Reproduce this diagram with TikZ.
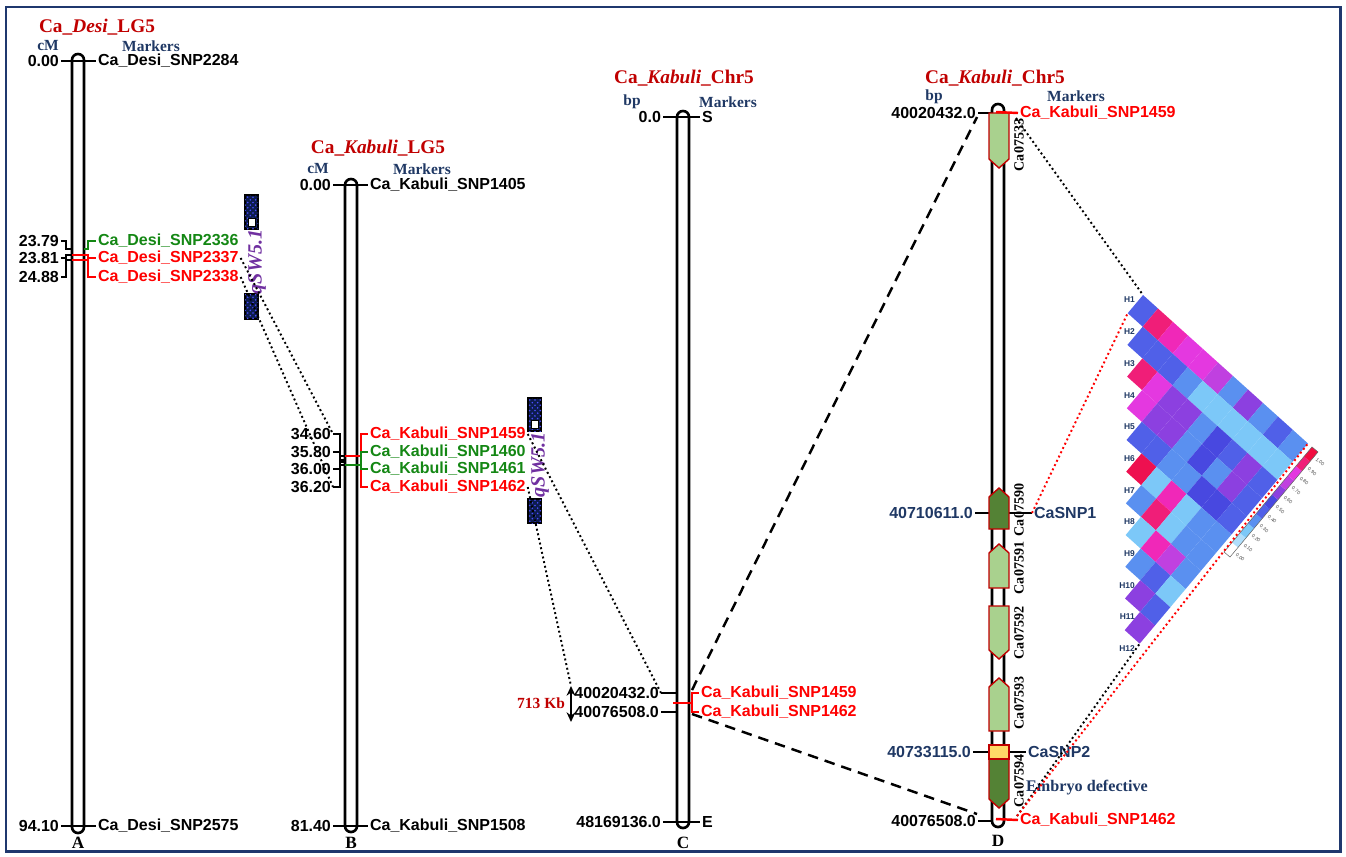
\documentclass[tikz,border=0pt]{standalone}
\usepackage{fontspec}
\setmainfont{Liberation Serif}
\setsansfont{Liberation Sans}
\usepackage{tikz}
\usetikzlibrary{arrows.meta,patterns}
\usepackage{xcolor}
\definecolor{framebl}{RGB}{31,56,110}
\definecolor{navytxt}{RGB}{31,56,100}
\definecolor{titlered}{RGB}{192,0,0}
\definecolor{mkgreen}{RGB}{20,135,20}
\definecolor{qtlpurple}{RGB}{112,48,160}
\definecolor{qtlnavy}{RGB}{12,28,78}
\definecolor{genelt}{RGB}{169,209,142}
\definecolor{genedk}{RGB}{84,130,53}
\definecolor{snpyel}{RGB}{255,217,102}
% r2 colours
\definecolor{ldA}{RGB}{124,200,248}
\definecolor{ldB}{RGB}{90,144,240}
\definecolor{ldC}{RGB}{80,96,232}
\definecolor{ldD}{RGB}{72,72,224}
\definecolor{ldE}{RGB}{140,64,224}
\definecolor{ldF}{RGB}{192,64,224}
\definecolor{ldG}{RGB}{228,56,224}
\definecolor{ldH}{RGB}{240,40,184}
\definecolor{ldI}{RGB}{240,30,120}
\definecolor{ldJ}{RGB}{238,16,80}
\tikzset{
  >=Stealth,
}

\begin{document}
\begin{tikzpicture}[
  x=0.02cm,y=-0.02cm,
  chrom/.style={draw,line width=1.5pt,rounded corners=3.4pt},
  tk/.style={line width=1.4pt},
  cmlab/.style={font=\sffamily\bfseries\fontsize{9.1}{10}\selectfont,anchor=east,inner sep=1pt},
  mklab/.style={font=\sffamily\bfseries\fontsize{9.1}{10}\selectfont,anchor=west,inner sep=1pt},
  maptitle/.style={font=\bfseries\fontsize{11}{12}\selectfont,text=titlered},
  unitlab/.style={font=\bfseries\fontsize{8.8}{10}\selectfont,text=navytxt,inner sep=1pt},
  chrlab/.style={font=\bfseries\fontsize{9.8}{11}\selectfont},
  gene/.style={draw=titlered,line width=0.8pt},
  genelab/.style={font=\bfseries\fontsize{8}{9}\selectfont,rotate=90,inner sep=1pt},
  qbox/.style={draw=black,line width=0.7pt,fill=qtlnavy,postaction={pattern=crosshatch dots,pattern color=blue!70}},
  qtllab/.style={font=\bfseries\itshape\fontsize{11.5}{12}\selectfont,text=qtlpurple,rotate=90},
  dotln/.style={line width=1.1pt,dash pattern=on 1.1pt off 1.6pt},
  dashln/.style={line width=1.4pt,dash pattern=on 6pt off 4pt},
  hlab/.style={font=\sffamily\bfseries\fontsize{4.8}{5}\selectfont,text=navytxt,anchor=east,inner sep=0.5pt},
  leglab/.style={font=\sffamily\fontsize{2.8}{3}\selectfont,text=black!70,anchor=west,rotate=-40,inner sep=0.3pt}
]
\useasboundingbox (0,0) rectangle (1346,856);
\draw[framebl,line width=1.7pt] (6,7) rectangle (1340,851);

% --- A: Ca_Desi_LG5
\node[maptitle] (tA) at (97,27) {Ca\_\textit{Desi}\_LG5};
\node[unitlab] (uA) at (48,46) {cM};
\node[unitlab] (kA) at (151,46) {Markers};
\draw[chrom] (72,54) rectangle (84,833);

\node[cmlab] (cA0) at (61,61) {0.00};
\node[mklab] (mA0) at (96,61) {Ca\_Desi\_SNP2284};
\draw[tk] (cA0.east) -- (mA0.west);

\node[cmlab] (cA1) at (61,241) {23.79};
\node[cmlab] (cA2) at (61,258) {23.81};
\node[cmlab] (cA3) at (61,277) {24.88};
\node[mklab,text=mkgreen] (mA1) at (96,241) {Ca\_Desi\_SNP2336};
\node[mklab,text=red] (mA2) at (96,258) {Ca\_Desi\_SNP2337};
\node[mklab,text=red] (mA3) at (96,277) {Ca\_Desi\_SNP2338};
\coordinate (lA1) at (72,249);
\coordinate (lA2) at (72,255);
\coordinate (lA3) at (72,260);
\coordinate (rA1) at (84,249);
\coordinate (rA2) at (84,255);
\coordinate (rA3) at (84,260);
\draw[tk] (cA1.east) -- ++(5,0) |- (lA1);
\draw[tk] (cA2.east) -- ++(5,0) |- (lA2);
\draw[tk] (cA3.east) -- ++(5,0) |- (lA3);
\draw[tk,red] (lA2) -- (rA2);
\draw[tk,red] (lA3) -- (rA3);
\draw[tk,mkgreen] (rA1) -- ++(4,0) |- (mA1.west);
\draw[tk,red] (rA2) -- ++(4,0) |- (mA2.west);
\draw[tk,red] (rA3) -- ++(4,0) |- (mA3.west);

\node[cmlab] (cA4) at (61,826) {94.10};
\node[mklab] (mA4) at (96,826) {Ca\_Desi\_SNP2575};
\draw[tk] (cA4.east) -- (mA4.west);
\node[chrlab] (lbA) at (78,843) {A};

% qtl on A
\draw[qbox] (245,195) rectangle (258,229);
\draw[fill=white,line width=0.4pt] (248,218) rectangle (255,226);
\draw[qbox] (245,294) rectangle (258,319);
\node[qtllab] (qA) at (257,262) {qSW5.1};

% --- B: Ca_Kabuli_LG5
\node[maptitle] (tB) at (378,148) {Ca\_\textit{Kabuli}\_LG5};
\node[unitlab] (uB) at (318,169) {cM};
\node[unitlab] (kB) at (422,169) {Markers};
\draw[chrom] (345,179) rectangle (357,832);

\node[cmlab] (cB0) at (333,185) {0.00};
\node[mklab] (mB0) at (368,185) {Ca\_Kabuli\_SNP1405};
\draw[tk] (cB0.east) -- (mB0.west);

\node[cmlab] (cB1) at (333,434) {34.60};
\node[cmlab] (cB2) at (333,452) {35.80};
\node[cmlab] (cB3) at (333,469) {36.00};
\node[cmlab] (cB4) at (333,487) {36.20};
\node[mklab,text=red] (mB1) at (368,434) {Ca\_Kabuli\_SNP1459};
\node[mklab,text=mkgreen] (mB2) at (368,452) {Ca\_Kabuli\_SNP1460};
\node[mklab,text=mkgreen] (mB3) at (368,469) {Ca\_Kabuli\_SNP1461};
\node[mklab,text=red] (mB4) at (368,487) {Ca\_Kabuli\_SNP1462};
\coordinate (lB1) at (345,456);
\coordinate (lB2) at (345,460);
\coordinate (lB3) at (345,462);
\coordinate (lB4) at (345,465);
\coordinate (rB1) at (357,456);
\coordinate (rB2) at (357,465);
\draw[tk] (cB1.east) -- ++(7,0) |- (lB1);
\draw[tk] (cB2.east) -- ++(7,0) |- (lB2);
\draw[tk] (cB3.east) -- ++(7,0) |- (lB3);
\draw[tk] (cB4.east) -- ++(7,0) |- (lB4);
\draw[tk,red] (lB1) -- (rB1);
\draw[tk,mkgreen] (lB4) -- (rB2);
\draw[tk,red] (rB1) -- ++(4,0) |- (mB1.west);
\draw[tk,red] (rB1) -- ++(4,0) |- (mB4.west);
\draw[tk,mkgreen] (rB2) -- ++(4,0) |- (mB2.west);
\draw[tk,mkgreen] (rB2) -- ++(4,0) |- (mB3.west);

\node[cmlab] (cB5) at (333,826) {81.40};
\node[mklab] (mB5) at (368,826) {Ca\_Kabuli\_SNP1508};
\draw[tk] (cB5.east) -- (mB5.west);
\node[chrlab] (lbB) at (351,843) {B};

% qtl on B
\draw[qbox] (528,398) rectangle (541,431);
\draw[fill=white,line width=0.4pt] (531,420) rectangle (538,428);
\draw[qbox] (528,499) rectangle (541,523);
\node[qtllab] (qB) at (540,465) {qSW5.1};

% --- C: Ca_Kabuli_Chr5
\node[maptitle] (tC) at (684,78) {Ca\_\textit{Kabuli}\_Chr5};
\node[unitlab] (uC) at (632,102) {bp};
\node[unitlab] (kC) at (728,102) {Markers};
\draw[chrom] (677,111) rectangle (689,828);

\node[cmlab] (cC0) at (663,117) {0.0};
\node[mklab] (mC0) at (700,117) {S};
\draw[tk] (cC0.east) -- (mC0.west);

\node[cmlab] (cC1) at (661,693) {40020432.0};
\node[cmlab] (cC2) at (661,712) {40076508.0};
\node[mklab,text=red] (mC1) at (699,693) {Ca\_Kabuli\_SNP1459};
\node[mklab,text=red] (mC2) at (699,712) {Ca\_Kabuli\_SNP1462};
\coordinate (lC1) at (677,693);
\coordinate (lC2) at (677,712);
\coordinate (lC0) at (673,703);
\coordinate (rC0) at (689,703);
\draw[tk] (cC1.east) -- (lC1);
\draw[tk] (cC2.east) -- (lC2);
\draw[tk,red] (lC0) -- (rC0);
\draw[tk,red] (rC0) -- ++(3,0) |- (mC1.west);
\draw[tk,red] (rC0) -- ++(3,0) |- (mC2.west);

\node[cmlab] (cC3) at (663,822) {48169136.0};
\node[mklab] (mC3) at (700,822) {E};
\draw[tk] (cC3.east) -- (mC3.west);
\node[chrlab] (lbC) at (683,843) {C};

\node[font=\bfseries\fontsize{8.8}{10}\selectfont,text=titlered,anchor=east,inner sep=1pt] (kb) at (567,703) {713 Kb};
\coordinate (ar1) at (571,686);
\coordinate (ar2) at (571,722);
\draw[<->,line width=1.3pt,>={Stealth[length=5.5pt,width=5pt]}] (ar1) -- (ar2);

% --- D: zoomed Ca_Kabuli_Chr5
\node[maptitle] (tD) at (995,78) {Ca\_\textit{Kabuli}\_Chr5};
\node[unitlab] (uD) at (934,97) {bp};
\node[unitlab] (kD) at (1076,96) {Markers};
\draw[chrom] (992,104) rectangle (1004,827);

\node[cmlab] (cD0) at (978,113) {40020432.0};
\node[cmlab] (cD5) at (978,821) {40076508.0};
\node[cmlab,text=navytxt] (cD1) at (975,513) {40710611.0};
\node[cmlab,text=navytxt] (cD2) at (973,752) {40733115.0};
\node[mklab,text=red] (mD0) at (1018,113) {Ca\_Kabuli\_SNP1459};
\node[mklab,text=red] (mD5) at (1018,820) {Ca\_Kabuli\_SNP1462};
\node[mklab,text=navytxt] (mD1) at (1032,513) {CaSNP1};
\node[mklab,text=navytxt] (mD2) at (1026,752) {CaSNP2};
\coordinate (lD0) at (992,113);
\coordinate (lD5) at (992,821);
\coordinate (rD0) at (996,112);
\coordinate (rD5) at (996,819);
\draw[tk] (cD0.east) -- (lD0);
\draw[tk] (cD5.east) -- (lD5);
\draw[tk] (cD1.east) -- (mD1.west);
\draw[tk] (cD2.east) -- (mD2.west);

% genes
\foreach \ytop/\ybot/\col in {113/168/genelt,606/659/genelt,759/808/genedk}
  \draw[gene,fill=\col] (989,\ytop) -- (1009,\ytop) -- (1009,{\ybot-9}) -- (999,\ybot) -- (989,{\ybot-9}) -- cycle;
\foreach \ytop/\ybot/\col in {488/529/genedk,544/588/genelt,678/731/genelt}
  \draw[gene,fill=\col] (989,\ybot) -- (989,{\ytop+9}) -- (999,\ytop) -- (1009,{\ytop+9}) -- (1009,\ybot) -- cycle;
\draw[gene,fill=snpyel] (989,745) rectangle (1009,759);
\draw[tk,red] (rD0) -- (mD0.west);
\draw[tk,red] (rD5) -- (mD5.west);

\node[genelab] (g533) at (1019,145) {Ca07533};
\node[genelab] (g590) at (1019,510) {Ca07590};
\node[genelab] (g591) at (1019,568) {Ca07591};
\node[genelab] (g592) at (1019,633) {Ca07592};
\node[genelab] (g593) at (1019,703) {Ca07593};
\node[genelab] (g594) at (1019,781) {Ca07594};
\node[font=\bfseries\fontsize{9.2}{10}\selectfont,text=navytxt,inner sep=1pt] (emb) at (1087,788) {Embryo defective};
\node[chrlab] (lbD) at (998,841) {D};

% --- LD heat map
\begin{scope}[shift={(1128,281.5)},x={(-0.306cm,-0.364cm)},y={(0.3cm,-0.27cm)}]
  \foreach \i/\row in {
    1/{ldC,ldI,ldH,ldG,ldG,ldF,ldB,ldE,ldB,ldC,ldB},
    2/{ldC,ldC,ldC,ldB,ldA,ldA,ldA,ldA,ldA,ldA},
    3/{ldI,ldG,ldE,ldE,ldB,ldD,ldC,ldE,ldC},
    4/{ldG,ldE,ldE,ldB,ldD,ldB,ldE,ldC},
    5/{ldC,ldC,ldB,ldB,ldD,ldD,ldC},
    6/{ldJ,ldA,ldH,ldA,ldB,ldB},
    7/{ldB,ldI,ldA,ldB,ldB},
    8/{ldA,ldH,ldF,ldB},
    9/{ldB,ldC,ldA},
    10/{ldE,ldC},
    11/{ldE}}{
    \foreach \c [count=\k] in \row {
      \pgfmathtruncatemacro{\j}{\i+\k}
      \fill[\c] ({\i-1},{\j-1}) -- (\i,{\j-1}) -- (\i,\j) -- ({\i-1},\j) -- cycle;
    }
  }
  \coordinate (ldtop) at (0,1);
  \coordinate (ldleft) at (1,1);
  \coordinate (ldright) at (0,12);
  \coordinate (ldbot) at (11,12);
\end{scope}
\foreach \k in {1,...,12}
  \node[hlab] (h\k) at (1136,{300+31.7*(\k-1)}) {H\k};

% r2 key
\begin{scope}[shift={(1224,552)},x={(0.16cm,0.191cm)},y={(0.12cm,-0.1cm)}]
  \foreach \c [count=\k from 0] in {white,ldA!60!white,ldA,ldB,ldC,ldD,ldE,ldF,ldG,ldI,ldJ!80!red} {
    \fill[\c] (\k,0) -- ({\k+1},0) -- ({\k+1},1) -- (\k,1) -- cycle;
  }
  \draw[black!60,line width=0.3pt] (0,0) -- (11,0) -- (11,1) -- (0,1) -- cycle;
  \foreach \t [count=\k from 0] in {0.00,0.10,0.20,0.30,0.40,0.50,0.60,0.70,0.80,0.90,1.00}
    \node[leglab] (key\k) at ({\k+0.5},1.3) {\t};
\end{scope}

% links between maps
\draw[dotln] (mA2.east) -- (cB1.east);
\draw[dotln] (mA3.east) -- (cB4.east);
\draw[dotln] (mB1.east) -- (cC1.east);
\draw[dotln] (mB4.east) -- (ar1);
\coordinate (dC1) at (692,690);
\coordinate (dC2) at (692,714);
\coordinate (dD1) at (977,117);
\coordinate (dD2) at (977,814);
\draw[dashln] (dC1) -- (dD1);
\draw[dashln] (dC2) -- (dD2);
\coordinate (dD0) at (1016,118);
\coordinate (dD5) at (1017,816);
\draw[dotln] (dD0) -- (ldtop);
\draw[dotln,red] (mD1.west) -- (ldleft);
\draw[dotln] (dD5) -- (ldbot);
\draw[dotln,red] (dD5) -- (ldright);

\end{tikzpicture}
\end{document}
